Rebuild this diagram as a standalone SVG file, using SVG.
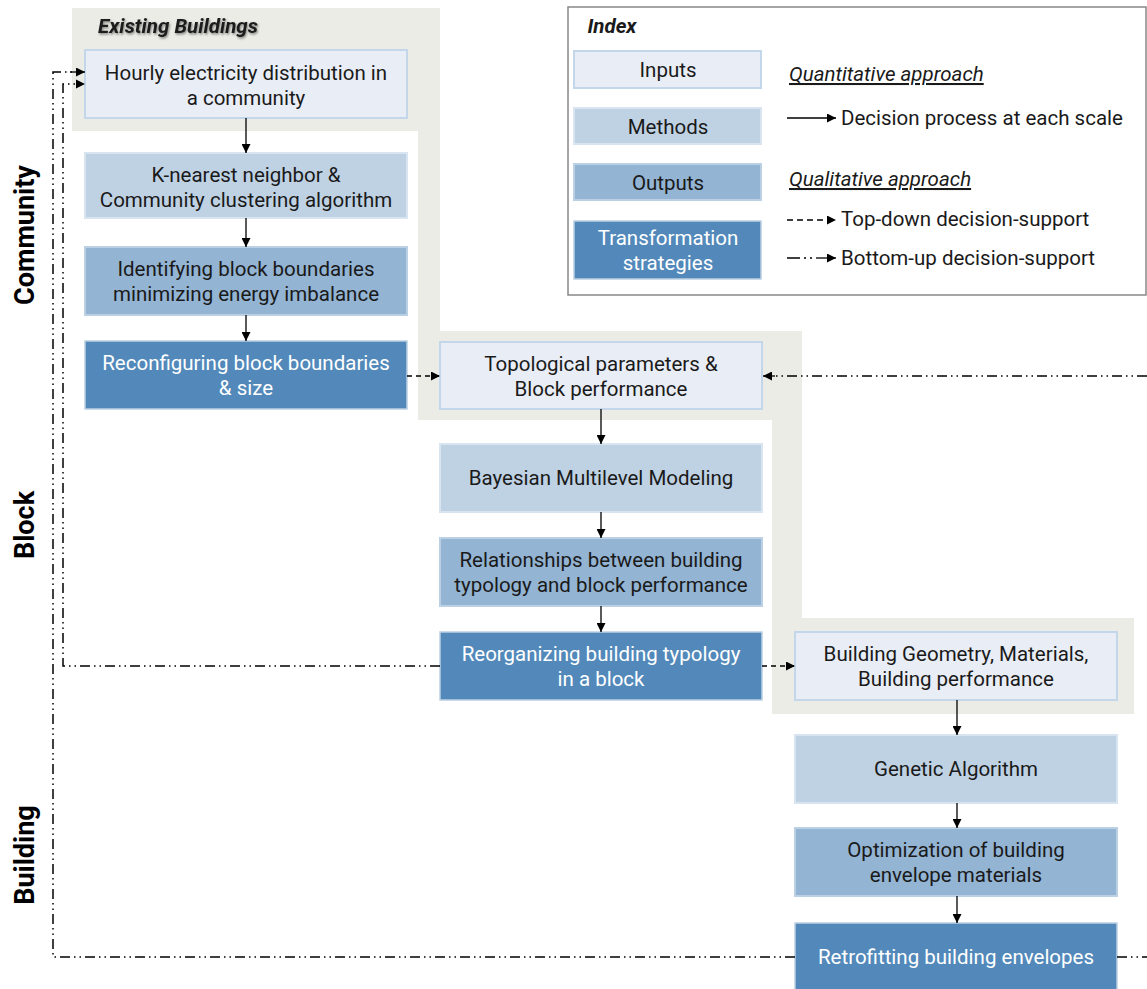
<svg xmlns="http://www.w3.org/2000/svg" width="1147" height="989" viewBox="0 0 1147 989">
<defs>
<marker id="ah" viewBox="0 0 10 10" refX="10" refY="5" markerWidth="9" markerHeight="9" markerUnits="userSpaceOnUse" orient="auto">
<path d="M0,0 L10,5 L0,10 z" fill="#000"/>
</marker>
<filter id="sh" x="-10%" y="-30%" width="130%" height="180%">
<feDropShadow dx="1" dy="1.5" stdDeviation="1" flood-color="#000" flood-opacity="0.45"/>
</filter>
</defs>
<style>
text{font-family:Roboto,"Liberation Sans",sans-serif;font-size:20.5px;fill:#1a1a1a;text-anchor:middle}
.in{fill:#e9eef6;stroke:#c4d6ea;stroke-width:2}
.me{fill:#bfd2e4;stroke:#d8e4ef;stroke-width:2}
.ou{fill:#93b4d3;stroke:#bcd0e3;stroke-width:2}
.tr{fill:#5289ba;stroke:#bcd0e3;stroke-width:1.5}
.side{font-size:27px;font-weight:bold;fill:#000}
.lg{text-anchor:start}
.ul{text-anchor:start;font-style:italic;text-decoration:underline}
.solid{stroke:#000;stroke-width:1.3;fill:none;marker-end:url(#ah)}
.dash{stroke:#000;stroke-width:1.5;fill:none;stroke-dasharray:5 4;marker-end:url(#ah)}
.dd{stroke:#000;stroke-width:1.5;fill:none;stroke-dasharray:10 4 1.5 4 1.5 4}
</style>
<rect width="1147" height="989" fill="#fff"/>
<g id="background">
<path d="M72,8 H440 V331 H802 V618 H1134 V714 H772 V420 H418 V131 H72 Z" fill="#ebece5"/>
</g>
<text x="178" y="33" style="font-weight:bold;font-style:italic" filter="url(#sh)">Existing Buildings</text>
<g id="side-labels">
<text class="side" transform="translate(34,235) rotate(-90)">Community</text>
<text class="side" transform="translate(34,525) rotate(-90)">Block</text>
<text class="side" transform="translate(34,855) rotate(-90)">Building</text>
</g>
<g id="index">
<rect x="568" y="7" width="578" height="288" fill="#fff" stroke="#888" stroke-width="1.5"/>
<text x="612" y="33" style="font-weight:bold;font-style:italic">Index</text>
<rect class="in" x="574" y="51" width="187" height="37"/>
<text x="668" y="77">Inputs</text>
<rect class="me" x="574" y="108" width="187" height="36"/>
<text x="668" y="134">Methods</text>
<rect class="ou" x="574" y="164" width="187" height="36"/>
<text x="668" y="190">Outputs</text>
<rect class="tr" x="574" y="221" width="187" height="58"/>
<text x="668" y="245" style="fill:#fff">Transformation</text>
<text x="668" y="270" style="fill:#fff">strategies</text>
<text class="ul" x="789" y="81">Quantitative approach</text>
<text class="lg" x="841" y="125">Decision process at each scale</text>
<text class="ul" x="789" y="186">Qualitative approach</text>
<text class="lg" x="841" y="226">Top-down decision-support</text>
<text class="lg" x="841" y="265">Bottom-up decision-support</text>
<line class="solid" x1="787" y1="118" x2="836" y2="118"/>
<line class="dash" x1="787" y1="220" x2="836" y2="220" style="stroke-dasharray:6 4"/>
<path d="M787,258 H800" stroke="#000" stroke-width="1.5"/>
<path d="M804,258 H806 M810,258 H812" stroke="#000" stroke-width="1.5"/>
<line class="solid" x1="816" y1="258" x2="836" y2="258"/>
</g>
<g id="n1"><rect class="in" x="85" y="50" width="322" height="68"/><text x="246" y="80">Hourly electricity distribution in</text><text x="246" y="105">a community</text></g>
<g id="n2"><rect class="me" x="85" y="153" width="322" height="65"/><text x="246" y="182">K-nearest neighbor &amp;</text><text x="246" y="207">Community clustering algorithm</text></g>
<g id="n3"><rect class="ou" x="85" y="247" width="322" height="68"/><text x="246" y="276">Identifying block boundaries</text><text x="246" y="301">minimizing energy imbalance</text></g>
<g id="n4"><rect class="tr" x="85" y="341" width="322" height="68"/><text x="246" y="370" style="fill:#fff">Reconfiguring block boundaries</text><text x="246" y="395" style="fill:#fff">&amp; size</text></g>
<g id="n5"><rect class="in" x="440" y="342" width="322" height="67"/><text x="601" y="371">Topological parameters &amp;</text><text x="601" y="396">Block performance</text></g>
<g id="n6"><rect class="me" x="440" y="444" width="322" height="68"/><text x="601" y="485">Bayesian Multilevel Modeling</text></g>
<g id="n7"><rect class="ou" x="440" y="538" width="322" height="68"/><text x="601" y="567">Relationships between building</text><text x="601" y="592">typology and block performance</text></g>
<g id="n8"><rect class="tr" x="440" y="632" width="322" height="68"/><text x="601" y="661" style="fill:#fff">Reorganizing building typology</text><text x="601" y="686" style="fill:#fff">in a block</text></g>
<g id="n9"><rect class="in" x="795" y="632" width="322" height="68"/><text x="956" y="661">Building Geometry, Materials,</text><text x="956" y="686">Building performance</text></g>
<g id="n10"><rect class="me" x="795" y="735" width="322" height="68"/><text x="956" y="776">Genetic Algorithm</text></g>
<g id="n11"><rect class="ou" x="795" y="828" width="322" height="68"/><text x="956" y="857">Optimization of building</text><text x="956" y="882">envelope materials</text></g>
<g id="n12"><rect class="tr" x="795" y="923" width="322" height="70"/><text x="956" y="964" style="fill:#fff">Retrofitting building envelopes</text></g>
<g id="connectors">
<line class="solid" x1="246" y1="118" x2="246" y2="153"/>
<line class="solid" x1="246" y1="218" x2="246" y2="247"/>
<line class="solid" x1="246" y1="315" x2="246" y2="341"/>
<line class="solid" x1="601" y1="409" x2="601" y2="444"/>
<line class="solid" x1="601" y1="512" x2="601" y2="538"/>
<line class="solid" x1="601" y1="606" x2="601" y2="632"/>
<line class="solid" x1="957" y1="700" x2="957" y2="735"/>
<line class="solid" x1="957" y1="803" x2="957" y2="828"/>
<line class="solid" x1="957" y1="896" x2="957" y2="923"/>
<line class="dash" x1="407" y1="376" x2="440" y2="376"/>
<line class="dash" x1="762" y1="666" x2="795" y2="666"/>
<path class="dd" d="M1147,376 H772"/>
<line class="solid" x1="775" y1="376" x2="763" y2="376"/>
<path class="dd" d="M1117,957 H1147"/>
<path class="dd" d="M795,957 H53 V72 H72"/>
<line class="solid" x1="70" y1="72" x2="85" y2="72"/>
<path class="dd" d="M440,666 H63 V84 H76"/>
<path d="M76,79.5 L85,84 L76,88.5 Z" fill="#000"/>
</g>
</svg>
